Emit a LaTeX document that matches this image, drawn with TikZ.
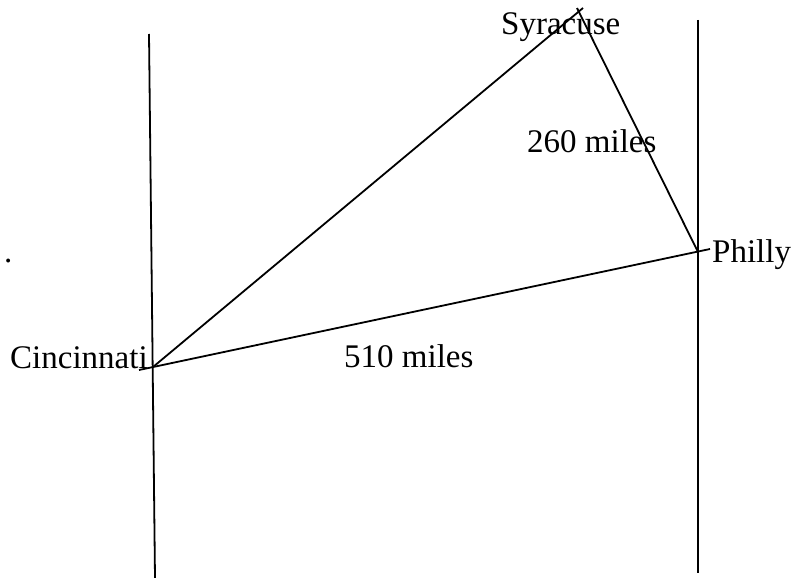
\documentclass[tikz,border=0pt]{standalone}
\usepackage{fontspec}
\setmainfont{Liberation Serif}
\begin{document}
\begin{tikzpicture}[x=1pt,y=-1pt,
  edge/.style={line width=1.8pt,black},
  lbl/.style={inner sep=0pt,anchor=base west,font=\fontsize{33}{40}\selectfont}]
\useasboundingbox (0,0) rectangle (793,578);
% vertical lines
\coordinate (ltop) at (149,34);
\coordinate (lbot) at (155,578);
\coordinate (rtop) at (698,20);
\coordinate (rbot) at (698,573);
\draw[edge] (ltop) -- (lbot);
\draw[edge] (rtop) -- (rbot);
% cities
\coordinate (cin) at (153,367);
\coordinate (cinend) at (139,370);
\coordinate (syrA) at (583,8);
\coordinate (syrB) at (577,8);
\coordinate (phl) at (698,252);
\coordinate (phlend) at (710,249);
\draw[edge] (cin) -- (syrA);
\draw[edge] (syrB) -- (phl);
\draw[edge] (cinend) -- (phlend);
% labels
\node[lbl] (tsyr) at (501,35) {Syracuse};
\node[lbl] (t260) at (527,152) {260 miles};
\node[lbl] (tphl) at (712,262) {Philly};
\node[lbl] (tcin) at (10,368) {Cincinnati};
\node[lbl] (t510) at (344,367) {510 miles};
\node[lbl] (tdot) at (4,262) {.};
\end{tikzpicture}
\end{document}
